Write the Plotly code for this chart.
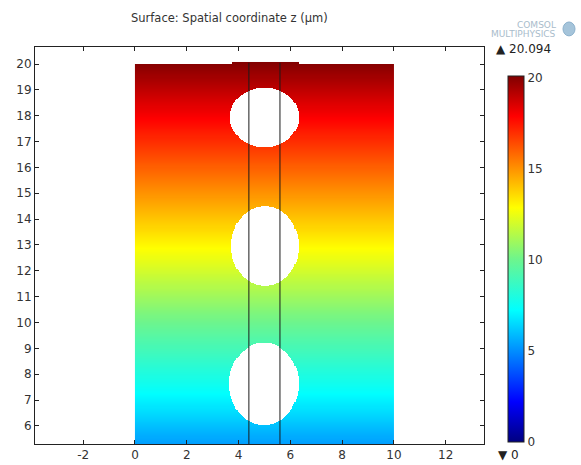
import numpy as np
import plotly.graph_objects as go

# ---- data ----
title_text = "Surface: Spatial coordinate z (µm)"
x_ticks = [-2, 0, 2, 4, 6, 8, 10, 12]
x_tick_text = ["-2", "0", "2", "4", "6", "8", "10", "12"]
y_ticks = list(range(6, 21))
cbar_ticks = [0, 5, 10, 15, 20]
z_min, z_max = 0.0, 20.094

# domain rectangle (µm)
rect_x = [0.0, 10.0]
rect_y = [5.0, 20.0]
# raised top edge near the column
bump_x = [3.75, 6.3]
bump_top = 20.05

# holes (ellipses): centre x, centre y, radius x, radius y
hole_cx = [5.00, 5.02, 4.98]
hole_cy = [17.94, 12.96, 7.63]
hole_rx = [1.33, 1.30, 1.34]
hole_ry = [1.15, 1.55, 1.59]

# vertical column lines
line_x = [4.4, 5.6]
line_y = [5.0, 20.05]

# ---- build surface grid ----
d = 0.04
xs = np.arange(rect_x[0] + d / 2, rect_x[1], d)
ys = np.arange(rect_y[0] + d / 2, bump_top + d, d)
X, Y = np.meshgrid(xs, ys)
Z = Y.copy()  # value = spatial coordinate z
top = np.where((X > bump_x[0]) & (X < bump_x[1]), bump_top, rect_y[1])
mask = Y - d / 2 >= top - 1e-9
for cx, cy, rx, ry in zip(hole_cx, hole_cy, hole_rx, hole_ry):
    mask |= ((X - cx) / rx) ** 2 + ((Y - cy) / ry) ** 2 < 1.0
Z = np.where(mask, np.nan, np.round(Z, 3))

colorscale = [
    [0.0, "rgb(0,0,128)"],
    [0.11, "rgb(0,0,255)"],
    [0.36, "rgb(0,255,255)"],
    [0.5, "rgb(110,245,140)"],
    [0.64, "rgb(255,255,0)"],
    [0.89, "rgb(255,0,0)"],
    [1.0, "rgb(128,0,0)"],
]

PW = 449  # plot width in px
fig = go.Figure()
fig.add_trace(go.Heatmap(
    x=xs, y=ys, z=Z, zmin=z_min, zmax=z_max, colorscale=colorscale,
    zsmooth=False, hoverongaps=False,
    colorbar=dict(
        x=(508 - 35) / PW, xanchor="left", y=0.466, yanchor="middle",
        len=0.922, lenmode="fraction", thickness=16,
        tickvals=cbar_ticks, ticks="", outlinewidth=1, outlinecolor="#222",
        tickfont=dict(family="DejaVu Sans", size=12, color="#333"),
        ypad=0, xpad=0,
    ),
))

for lx in line_x:
    fig.add_trace(go.Scatter(x=[lx, lx], y=line_y, mode="lines",
                             line=dict(color="#1a1a1a", width=1),
                             showlegend=False, hoverinfo="skip"))

axis_common = dict(showline=True, linecolor="#222", linewidth=1, mirror="ticks",
                   ticks="inside", ticklen=4, tickcolor="#222", showgrid=False,
                   zeroline=False, automargin=False,
                   tickfont=dict(family="DejaVu Sans", size=12, color="#333"))
fig.update_xaxes(range=[-3.86, 13.48], tickvals=x_ticks, ticktext=x_tick_text, **axis_common)
fig.update_yaxes(range=[5.30, 20.66], tickvals=y_ticks, **axis_common)

def px(xp):
    return (xp - 35) / PW

fig.add_annotation(text=title_text, xref="paper", yref="paper", x=px(229), y=1.073,
                   yanchor="middle", showarrow=False,
                   font=dict(family="DejaVu Sans", size=11.5, color="#333"))
fig.add_annotation(text="▲ 20.094", xref="paper", yref="paper", x=px(494), y=0.995,
                   xanchor="left", yanchor="middle", showarrow=False,
                   font=dict(family="DejaVu Sans", size=12, color="#222"))
fig.add_annotation(text="▼ 0", xref="paper", yref="paper", x=px(496), y=-0.028,
                   xanchor="left", yanchor="middle", showarrow=False,
                   font=dict(family="DejaVu Sans", size=12, color="#222"))
fig.add_annotation(text="COMSOL", xref="paper", yref="paper", x=px(558), y=1.055,
                   xanchor="right", yanchor="middle", showarrow=False,
                   font=dict(family="DejaVu Sans", size=9, color="#a9bccb"))
fig.add_annotation(text="MULTIPHYSICS", xref="paper", yref="paper", x=px(558), y=1.033,
                   xanchor="right", yanchor="middle", showarrow=False,
                   font=dict(family="DejaVu Sans", size=9, color="#a9bccb"))
# small logo cube
fig.add_shape(type="circle", xref="paper", yref="paper",
              x0=px(563), x1=px(575), y0=1.028, y1=1.063,
              fillcolor="#8fb6d2", line=dict(color="#6f9ec0", width=1), opacity=0.8)

fig.update_layout(
    width=581, height=465,
    margin=dict(l=35, r=581 - 35 - PW, t=47, b=21, autoexpand=False),
    paper_bgcolor="white", plot_bgcolor="white",
    showlegend=False,
)
fig.write_html("out.html", config={"displayModeBar": False},
               post_script="document.body.style.margin='0';document.body.style.overflow='hidden';")
